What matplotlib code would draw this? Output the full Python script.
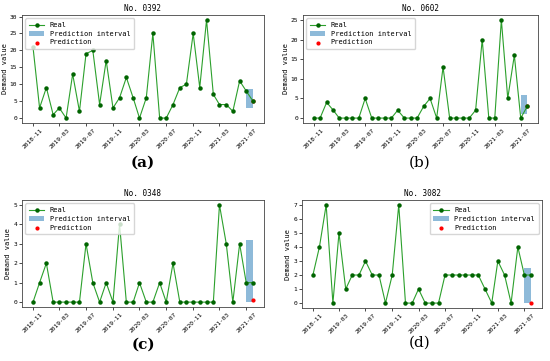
import matplotlib
matplotlib.use("Agg")
import matplotlib.pyplot as plt
from matplotlib.ticker import MultipleLocator
import pandas as pd

# monthly demand, 2018-11 .. 2021-08
months = pd.date_range("2018-11-01", periods=34, freq="MS")
tick_labels = ["2018-11", "2019-03", "2019-07", "2019-11", "2020-03",
               "2020-07", "2020-11", "2021-03", "2021-07"]

titles = ["No. 0392", "No. 0602", "No. 0348", "No. 3082"]
captions = ["(a)", "(b)", "(c)", "(d)"]

real_0392 = [21, 3, 9, 1, 3, 0, 13, 2, 19, 20, 4, 17, 3, 6, 12, 6, 0, 6, 25, 0,
             0, 4, 9, 10, 25, 9, 29, 7, 4, 4, 2, 11, 8, 5]
real_0602 = [0, 0, 4, 2, 0, 0, 0, 0, 5, 0, 0, 0, 0, 2, 0, 0, 0, 3, 5, 0,
             13, 0, 0, 0, 0, 2, 20, 0, 0, 25, 5, 16, 0, 3]
real_0348 = [0, 1, 2, 0, 0, 0, 0, 0, 3, 1, 0, 1, 0, 4, 0, 0, 1, 0, 0, 1,
             0, 2, 0, 0, 0, 0, 0, 0, 5, 3, 0, 3, 1, 1]
real_3082 = [2, 4, 7, 0, 5, 1, 2, 2, 3, 2, 2, 0, 2, 7, 0, 0, 1, 0, 0, 0,
             2, 2, 2, 2, 2, 2, 1, 0, 3, 2, 0, 4, 2, 2]
reals = [real_0392, real_0602, real_0348, real_3082]

interval_low = [3, 1, 0, 0]
interval_high = [8.5, 6, 3.2, 2.5]
prediction = [5, 3, 0.1, 0]

y_step = [5, 5, 1, 1]
legend_loc = ["upper left", "upper left", "upper left", "upper right"]

W, H = 550, 361
fig = plt.figure(figsize=(W / 100, H / 100), dpi=100)

# axes boxes in pixels: left, top, right, bottom
boxes = [(22, 15, 264, 123), (303, 15, 538, 123),
         (22, 200, 264, 307), (302, 200, 542, 308)]
caption_pos = [(143, 163), (420, 163), (143, 345), (420, 343)]
caption_bold = [True, False, True, False]

mono = "DejaVu Sans Mono"

for i in range(4):
    l, t, r, b = boxes[i]
    ax = fig.add_axes([l / W, 1 - b / H, (r - l) / W, (b - t) / H])
    band = ax.fill_between(months[-2:], interval_low[i], interval_high[i],
                           color="#1f77b4", alpha=0.5, linewidth=0,
                           label="Prediction interval", zorder=1)
    pred = ax.scatter(months[-1:], [prediction[i]], color="red", s=4,
                      label="Prediction", zorder=2)
    line, = ax.plot(months, reals[i], color="#2ca02c", linewidth=0.8,
                    marker="o", markersize=2.2, markerfacecolor="darkgreen",
                    markeredgecolor="darkgreen", label="Real", zorder=3)
    ticks = [pd.Timestamp(s + "-01") for s in tick_labels]
    ax.set_xticks(ticks)
    ax.set_xticklabels(tick_labels, rotation=45, fontsize=4.5, family=mono)
    ax.yaxis.set_major_locator(MultipleLocator(y_step[i]))
    for lab in ax.get_yticklabels():
        lab.set_fontsize(4.5)
        lab.set_family(mono)
    ax.set_ylabel("Demand value", fontsize=5, family=mono, labelpad=1.5)
    ax.set_title(titles[i], fontsize=5.5, family=mono, pad=3)
    ax.tick_params(length=2, width=0.5, pad=1.5)
    for sp in ax.spines.values():
        sp.set_linewidth(0.6)
        sp.set_color("#444444")
    ax.legend([line, band, pred], ["Real", "Prediction interval", "Prediction"],
              loc=legend_loc[i], prop={"family": mono, "size": 5},
              handlelength=2.2, borderpad=0.5, labelspacing=0.4)
    cx, cy = caption_pos[i]
    fig.text(cx / W, 1 - cy / H, captions[i], ha="center", va="center",
             fontsize=11, family="DejaVu Serif",
             weight="bold" if caption_bold[i] else "normal")

fig.savefig("out.png", dpi=100)
